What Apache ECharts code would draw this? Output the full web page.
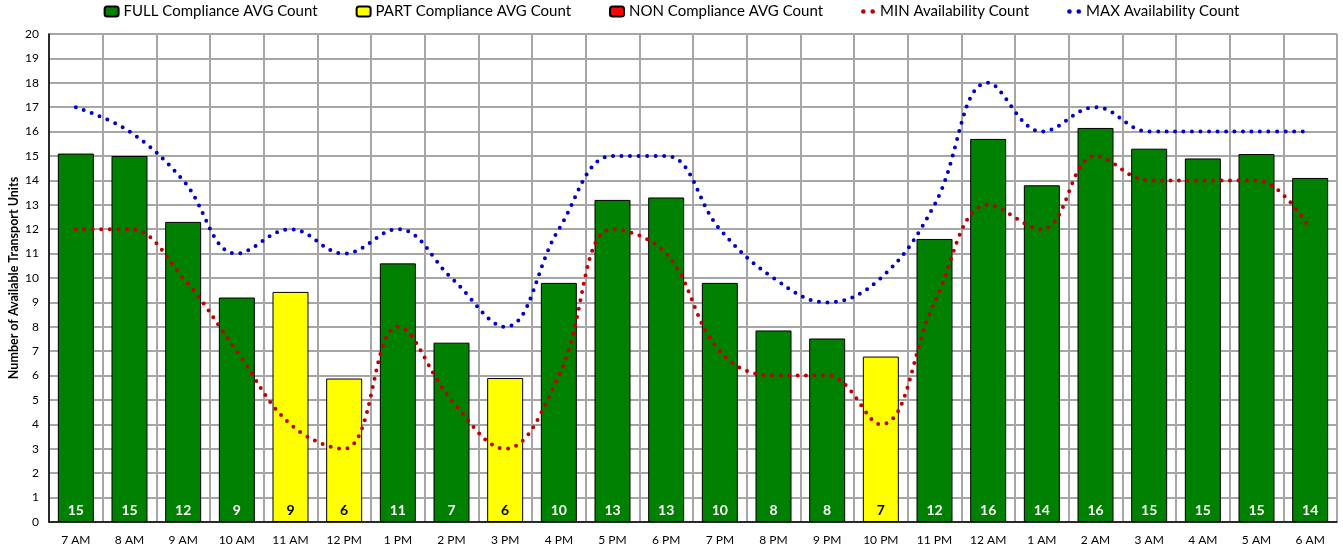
<!DOCTYPE html>
<html>
<head>
<meta charset="utf-8">
<script src="https://cdn.jsdelivr.net/npm/echarts@6/dist/echarts.min.js"></script>
<style>
    html, body { margin: 0; padding: 0; background: #fff; }
    #main { width: 1343px; height: 552px; }
</style>
</head>
<body>
<div id="main"></div>
<script>
    const hours = ['7 AM', '8 AM', '9 AM', '10 AM', '11 AM', '12 PM', '1 PM', '2 PM', '3 PM', '4 PM', '5 PM', '6 PM',
        '7 PM', '8 PM', '9 PM', '10 PM', '11 PM', '12 AM', '1 AM', '2 AM', '3 AM', '4 AM', '5 AM', '6 AM'];
    // average counts, split by compliance level (null = not in that group)
    const fullAvg = [15.1, 15.0, 12.3, 9.2, null, null, 10.6, 7.35, null, 9.8, 13.2, 13.3,
        9.8, 7.85, 7.52, null, 11.6, 15.7, 13.8, 16.15, 15.3, 14.9, 15.08, 14.1];
    const partAvg = [null, null, null, null, 9.43, 5.88, null, null, 5.9, null, null, null,
        null, null, null, 6.78, null, null, null, null, null, null, null, null];
    const nonAvg = hours.map(() => null);
    const minAvail = [12, 12, 10, 7, 4, 3, 8, 5, 3, 6, 12, 11, 7, 6, 6, 4, 9, 13, 12, 15, 14, 14, 14, 12];
    const maxAvail = [17, 16, 14, 11, 12, 11, 12, 10, 8, 12, 15, 15, 12, 10, 9, 10, 13, 18, 16, 17, 16, 16, 16, 16];

    const font = 'Lato, "Open Sans", sans-serif';
    // two small dots for the line legend entries
    const dotsIcon = 'path://M0,2A2,2,0,1,1,4,2A2,2,0,1,1,0,2ZM8,2A2,2,0,1,1,12,2A2,2,0,1,1,8,2Z';

    function barSeries(name, data, color, labelColor) {
        return {
            name: name,
            type: 'bar',
            stack: 'avg',
            barWidth: 36,
            data: data,
            itemStyle: {color: color, borderColor: '#000', borderWidth: 1},
            label: {
                show: true,
                position: 'insideBottom',
                distance: 5,
                color: labelColor,
                fontWeight: 'bold',
                fontSize: 14,
                fontFamily: font,
                formatter: p => Math.round(p.value)
            }
        };
    }

    function dotSeries(name, data, color) {
        return {
            name: name,
            type: 'line',
            data: data,
            smooth: 0.4,
            symbol: 'none',
            z: 5,
            itemStyle: {color: color},
            lineStyle: {color: color, width: 4, type: [0, 8.5], cap: 'round'}
        };
    }

    const myChart = echarts.init(document.getElementById('main'));
    myChart.setOption({
        animation: false,
        textStyle: {fontFamily: font},
        legend: {
            top: -1,
            left: 'center',
            itemGap: 38,
            itemWidth: 14,
            itemHeight: 10,
            textStyle: {fontSize: 15, color: '#000', fontFamily: font},
            data: [
                {name: 'FULL Compliance AVG Count'},
                {name: 'PART Compliance AVG Count'},
                {name: 'NON Compliance AVG Count'},
                {name: 'MIN Availability Count', icon: dotsIcon},
                {name: 'MAX Availability Count', icon: dotsIcon}
            ]
        },
        // y axis title, placed by hand
        graphic: [{
            type: 'text',
            x: 14,
            y: 278,
            rotation: Math.PI / 2,
            style: {
                text: 'Number of Available Transport Units',
                fontFamily: font,
                fontWeight: 'bold',
                fontSize: 12.5,
                fill: '#000',
                align: 'center',
                verticalAlign: 'middle'
            }
        }],
        grid: {left: 49, right: 6, top: 34, bottom: 30, outerBoundsMode: 'none'},
        xAxis: {
            type: 'category',
            data: hours,
            axisLine: {lineStyle: {color: '#000', width: 1.5}},
            axisTick: {show: false},
            axisLabel: {color: '#000', fontSize: 12, margin: 12},
            splitLine: {show: true, interval: 0, lineStyle: {color: '#a6a6a6', width: 2}}
        },
        yAxis: {
            type: 'value',
            min: 0,
            max: 20,
            interval: 1,
            axisLine: {show: true, lineStyle: {color: '#000', width: 1.5}},
            axisTick: {show: false},
            axisLabel: {color: '#000', fontSize: 12, margin: 10},
            splitLine: {lineStyle: {color: '#a6a6a6', width: 2}}
        },
        series: [
            barSeries('FULL Compliance AVG Count', fullAvg, '#008000', '#fff'),
            barSeries('PART Compliance AVG Count', partAvg, '#ffff00', '#000'),
            barSeries('NON Compliance AVG Count', nonAvg, '#ff0000', '#fff'),
            dotSeries('MIN Availability Count', minAvail, '#c00000'),
            dotSeries('MAX Availability Count', maxAvail, '#0000cc')
        ]
    });
</script>
</body>
</html>
